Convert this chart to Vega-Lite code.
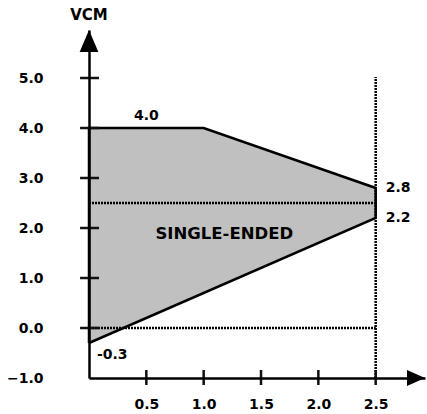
{
  "$schema": "https://vega.github.io/schema/vega-lite/v6.json",
  "width": 336,
  "height": 348,
  "autosize": {"type": "none"},
  "padding": {"left": 89, "top": 30, "right": 2, "bottom": 36},
  "background": "white",
  "config": {"view": {"stroke": null}, "font": "DejaVu Sans"},
  "encoding": {
    "x": {
      "field": "x", "type": "quantitative",
      "scale": {"domain": [0, 2.93], "nice": false, "zero": false},
      "axis": {
        "values": [0.5, 1, 1.5, 2, 2.5], "format": ".1f", "title": null,
        "ticks": false, "grid": false, "domainColor": "black", "domainWidth": 2.5,
        "labelFont": "DejaVu Sans", "labelFontWeight": "bold", "labelFontSize": 14,
        "labelColor": "black", "labelPadding": 19, "labelFlush": false, "labelOverlap": false, "zindex": 1
      }
    },
    "y": {
      "field": "y", "type": "quantitative",
      "scale": {"domain": [-1, 5.96], "nice": false, "zero": false},
      "axis": {
        "values": [-1, 0, 1, 2, 3, 4, 5], "format": ".1f", "title": null,
        "ticks": false, "grid": false, "domainColor": "black", "domainWidth": 2.5,
        "labelFont": "DejaVu Sans", "labelFontWeight": "bold", "labelFontSize": 14,
        "labelColor": "black", "labelPadding": 46, "labelFlush": false, "labelOverlap": false, "zindex": 1
      }
    }
  },
  "layer": [
    {
      "data": {"values": [
        {"x": 0, "y": 4.0, "y2": -0.3},
        {"x": 1.0, "y": 4.0, "y2": 0.7},
        {"x": 2.5, "y": 2.8, "y2": 2.2}
      ]},
      "mark": {"type": "area", "color": "#c0c0c0", "opacity": 1},
      "encoding": {"y2": {"field": "y2"}}
    },
    {
      "data": {"values": [
        {"x": 0, "x2": 2.5, "y": 2.5, "y2": 2.5},
        {"x": 0, "x2": 2.5, "y": 0, "y2": 0},
        {"x": 2.5, "x2": 2.5, "y": -1, "y2": 5.02}
      ]},
      "mark": {"type": "rule", "color": "black", "strokeWidth": 2.5, "strokeDash": [2, 1]},
      "encoding": {"x2": {"field": "x2"}, "y2": {"field": "y2"}}
    },
    {
      "data": {"values": [
        {"o": 1, "x": 0, "y": -0.3},
        {"o": 2, "x": 0, "y": 4.0},
        {"o": 3, "x": 1.0, "y": 4.0},
        {"o": 4, "x": 2.5, "y": 2.8},
        {"o": 5, "x": 2.5, "y": 2.2},
        {"o": 6, "x": 0, "y": -0.3}
      ]},
      "mark": {"type": "line", "color": "black", "strokeWidth": 2.5},
      "encoding": {"order": {"field": "o", "type": "quantitative"}}
    },
    {
      "data": {"values": [
        {"x": 0, "y": 0}, {"x": 0, "y": 1}, {"x": 0, "y": 2},
        {"x": 0, "y": 3}, {"x": 0, "y": 4}, {"x": 0, "y": 5}
      ]},
      "mark": {"type": "rule", "color": "#111111", "strokeWidth": 2.5},
      "encoding": {"x2": {"datum": 0.087}}
    },
    {
      "data": {"values": [
        {"x": 0, "y": 0}, {"x": 0, "y": 1}, {"x": 0, "y": 2},
        {"x": 0, "y": 3}, {"x": 0, "y": 4}, {"x": 0, "y": 5}
      ]},
      "mark": {"type": "rule", "color": "#111111", "strokeWidth": 2.5},
      "encoding": {"x2": {"datum": -0.078}}
    },
    {
      "data": {"values": [
        {"x": 0.5, "y": -1}, {"x": 1.0, "y": -1}, {"x": 1.5, "y": -1},
        {"x": 2.0, "y": -1}, {"x": 2.5, "y": -1}
      ]},
      "mark": {"type": "rule", "color": "#111111", "strokeWidth": 2.5},
      "encoding": {"y2": {"datum": -0.84}}
    },
    {
      "data": {"values": [
        {"x": 0.5, "y": -1}, {"x": 1.0, "y": -1}, {"x": 1.5, "y": -1},
        {"x": 2.0, "y": -1}, {"x": 2.5, "y": -1}
      ]},
      "mark": {"type": "rule", "color": "#111111", "strokeWidth": 2.5},
      "encoding": {"y2": {"datum": -1.14}}
    },
    {
      "data": {"values": [{"x": 0, "y": 5.96}]},
      "mark": {"type": "point", "shape": "M0,0 L0.85,2 L-0.85,2 Z", "size": 484, "filled": true, "color": "black", "opacity": 1, "strokeWidth": 0}
    },
    {
      "data": {"values": [{"x": 2.93, "y": -1}]},
      "mark": {"type": "point", "shape": "M0,0 L-2,-0.9 L-2,0.9 Z", "size": 324, "filled": true, "color": "black", "opacity": 1, "strokeWidth": 0}
    },
    {
      "data": {"values": [{"x": 0, "y": 5.96, "label": "VCM"}]},
      "mark": {"type": "text", "font": "DejaVu Sans", "fontWeight": "bold", "fontSize": 15, "color": "black", "align": "center", "baseline": "middle", "dy": -15},
      "encoding": {"text": {"field": "label"}}
    },
    {
      "data": {"values": [{"x": 0.5, "y": 4.0, "label": "4.0"}]},
      "mark": {"type": "text", "font": "DejaVu Sans", "fontWeight": "bold", "fontSize": 14, "color": "black", "align": "center", "baseline": "middle", "dy": -12},
      "encoding": {"text": {"field": "label"}}
    },
    {
      "data": {"values": [{"x": 2.5, "y": 2.8, "label": "2.8"}, {"x": 2.5, "y": 2.2, "label": "2.2"}]},
      "mark": {"type": "text", "font": "DejaVu Sans", "fontWeight": "bold", "fontSize": 14, "color": "black", "align": "left", "baseline": "middle", "dx": 10},
      "encoding": {"text": {"field": "label"}}
    },
    {
      "data": {"values": [{"x": 0, "y": -0.3, "label": "-0.3"}]},
      "mark": {"type": "text", "font": "DejaVu Sans", "fontWeight": "bold", "fontSize": 14, "color": "black", "align": "left", "baseline": "middle", "dx": 8, "dy": 12},
      "encoding": {"text": {"field": "label"}}
    },
    {
      "data": {"values": [{"x": 1.18, "y": 1.88, "label": "SINGLE-ENDED"}]},
      "mark": {"type": "text", "font": "DejaVu Sans", "fontWeight": "bold", "fontSize": 16.5, "color": "black", "align": "center", "baseline": "middle"},
      "encoding": {"text": {"field": "label"}}
    }
  ]
}
